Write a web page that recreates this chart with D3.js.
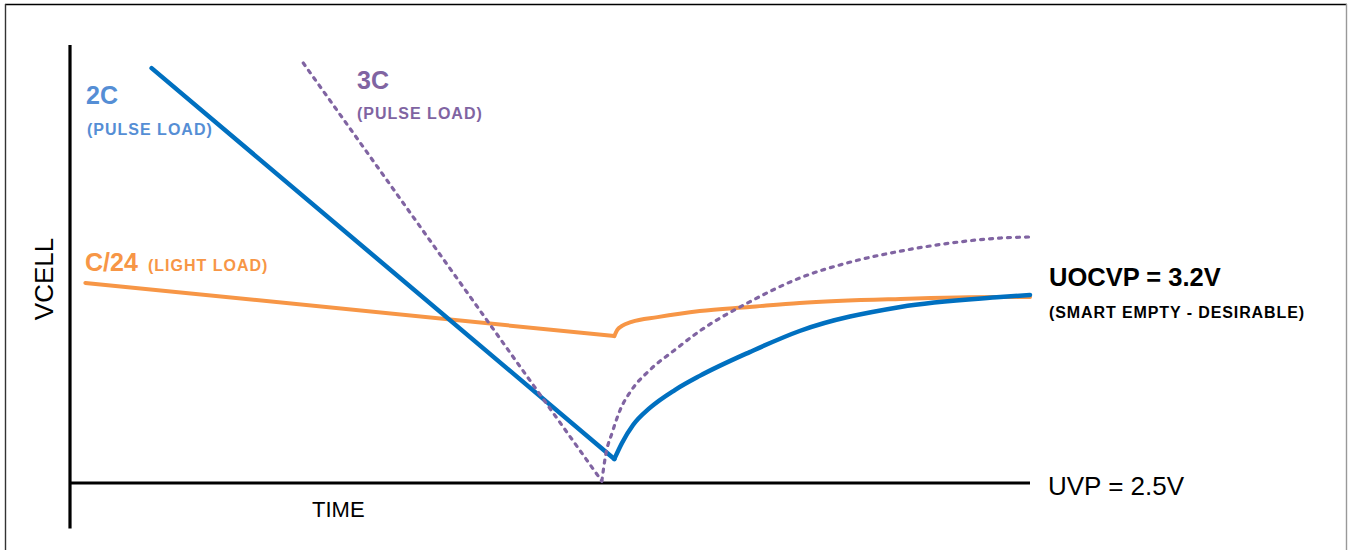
<!DOCTYPE html>
<html>
<head>
<meta charset="utf-8">
<script src="https://cdn.jsdelivr.net/npm/d3@7"></script>
<style>
  body { margin: 0; background: #fff; }
  svg { display: block; }
  text { font-family: "Liberation Sans", Arial, sans-serif; }
</style>
</head>
<body>
<div id="chart"></div>
<script>
// -------------------- DATA --------------------
// time is in % of the plotted span, voltage in volts

// C/24 light load
const c24Fall = [[1.6, 3.249], [56.7, 3.050]];
const c24Rise = [[56.7, 3.050], [57.0, 3.073], [57.5, 3.088], [58.5, 3.103], [61.2, 3.121],
  [65.6, 3.144], [70.8, 3.159], [76.0, 3.174], [86.5, 3.189], [96.9, 3.196], [100, 3.196]];

// 2C pulse load
const c2Fall = [[8.5, 4.053], [56.7, 2.590]];
const c2Rise = [[56.7, 2.590], [57.5, 2.650], [58.65, 2.717], [60.4, 2.781], [63.0, 2.848],
  [65.6, 2.901], [70.8, 2.990], [76.0, 3.069], [86.5, 3.159], [96.9, 3.196], [100, 3.204]];

// 3C pulse load
const c3Fall = [[24.3, 4.072], [55.4, 2.507]];
const c3Rise = [[55.4, 2.507], [55.8, 2.605], [56.5, 2.691], [57.3, 2.773], [58.5, 2.848],
  [60.4, 2.923], [63.0, 2.998], [65.6, 3.069], [70.8, 3.178], [76.0, 3.267], [81.3, 3.327],
  [86.5, 3.368], [91.7, 3.398], [96.9, 3.417], [100, 3.421]];

// thresholds
const uvp = 2.5;
const uocvp = 3.2;

// -------------------- CHART --------------------

var width = 1348;
var height = 550;

var svg = d3.select("#chart")
  .append("svg")
  .attr("width", width)
  .attr("height", height);

// frame around the figure
svg.append("line").attr("x1", 5).attr("x2", 1347).attr("y1", 4.5).attr("y2", 4.5)
  .style("stroke", "#000").style("stroke-width", 1.6);
svg.append("line").attr("x1", 5.5).attr("x2", 5.5).attr("y1", 4).attr("y2", 560)
  .style("stroke", "#333").style("stroke-width", 1.4);
svg.append("line").attr("x1", 1346.5).attr("x2", 1346.5).attr("y1", 4).attr("y2", 560)
  .style("stroke", "#999").style("stroke-width", 1.4);

// scales
var x = d3.scaleLinear().domain([0, 100]).range([70, 1030]);
var y = d3.scaleLinear().domain([uvp, uocvp]).range([483, 296]);

// axes (plain lines, no ticks)
svg.append("line")
  .attr("x1", x(0)).attr("x2", x(0))
  .attr("y1", y(4.14)).attr("y2", y(2.33))
  .style("stroke", "#000").style("stroke-width", 3.2);

svg.append("line")
  .attr("x1", x(0)).attr("x2", x(100))
  .attr("y1", y(uvp)).attr("y2", y(uvp))
  .style("stroke", "#000").style("stroke-width", 3.2);

var straight = d3.line().x(d => x(d[0])).y(d => y(d[1]));
var smooth = d3.line().x(d => x(d[0])).y(d => y(d[1])).curve(d3.curveMonotoneX);

function drawSeries(fall, rise, color, w, dash) {
  [[fall, straight], [rise, smooth]].forEach(function (p) {
    svg.append("path")
      .attr("d", p[1](p[0]))
      .style("fill", "none")
      .style("stroke", color)
      .style("stroke-width", w)
      .style("stroke-linecap", "round")
      .style("stroke-linejoin", "round")
      .style("stroke-dasharray", dash);
  });
}

drawSeries(c24Fall, c24Rise, "#F79646", 4, null);
drawSeries(c2Fall, c2Rise, "#0070C0", 4.5, null);
drawSeries(c3Fall, c3Rise, "#8064A2", 3.2, "3,6");

// -------------------- LABELS --------------------

function label(txt, px, py, size, color, bold, spacing) {
  return svg.append("text")
    .attr("x", px)
    .attr("y", py)
    .text(txt)
    .style("font-size", size + "px")
    .style("font-weight", bold ? "bold" : "normal")
    .style("letter-spacing", (spacing || 0) + "px")
    .style("fill", color);
}

label("2C", 86, 104, 25, "#558ED5", true);
label("(PULSE LOAD)", 87, 135, 16, "#558ED5", true, 1);

label("3C", 357, 89, 25, "#8064A2", true);
label("(PULSE LOAD)", 357, 119, 16, "#8064A2", true, 1);

label("C/24", 85, 271, 25, "#F79646", true);
label("(LIGHT LOAD)", 148, 271, 16, "#F79646", true, 1);

label("UOCVP = 3.2V", 1049, 286, 25.5, "#000", true);
label("(SMART EMPTY - DESIRABLE)", 1049, 318, 16, "#000", true, 0.9);

label("UVP = 2.5V", 1048, 495, 26, "#000", false);
label("TIME", 312, 517, 22, "#000", false);

// vertical axis title
svg.append("text")
  .attr("transform", "translate(53,279) rotate(-90)")
  .attr("text-anchor", "middle")
  .text("VCELL")
  .style("font-size", "26px")
  .style("fill", "#000");
</script>
</body>
</html>
